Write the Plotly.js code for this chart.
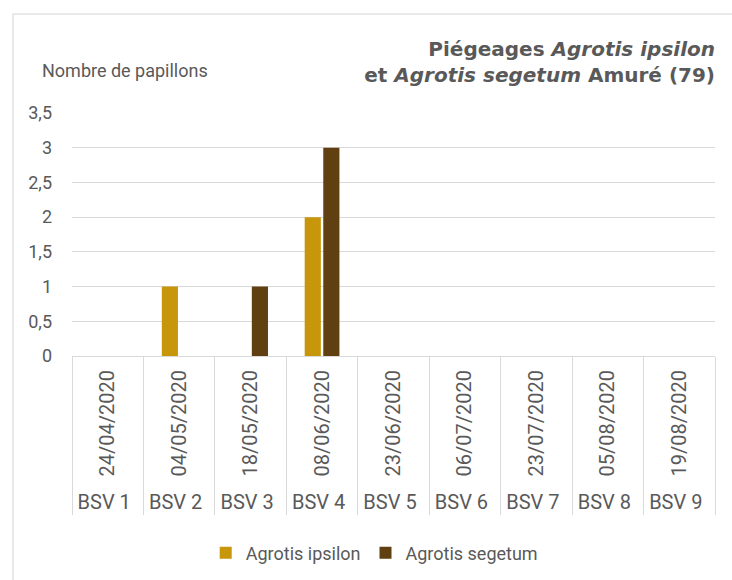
<!DOCTYPE html>
<html>
<head>
<meta charset="utf-8">
<script src="https://cdn.plot.ly/plotly-3.0.1.min.js"></script>
<style>html,body{margin:0;padding:0;background:#fff;}#chart{width:732px;height:580px;}</style>
</head>
<body>
<div id="chart"></div>
<script>
var bsv = ["BSV 1","BSV 2","BSV 3","BSV 4","BSV 5","BSV 6","BSV 7","BSV 8","BSV 9"];
var dates = ["24/04/2020","04/05/2020","18/05/2020","08/06/2020","23/06/2020","06/07/2020","23/07/2020","05/08/2020","19/08/2020"];
var ipsilon = [0,1,0,2,0,0,0,0,0];
var segetum = [0,0,1,3,0,0,0,0,0];
var yTicks = [0,0.5,1,1.5,2,2.5,3,3.5];

var gray = "#595959";
var lineGray = "#d9d9d9";
var font = "Roboto, 'Liberation Sans', sans-serif";

var traces = [
  {type:"bar", name:"Agrotis ipsilon", x:[bsv, dates], y:ipsilon, marker:{color:"#C8960A"}},
  {type:"bar", name:"Agrotis segetum", x:[bsv, dates], y:segetum, marker:{color:"#604010"}}
];

var layout = {
  width:732, height:580,
  margin:{l:72, r:17, t:113, b:224},
  paper_bgcolor:"#fff", plot_bgcolor:"#fff",
  separators:", ",
  font:{family:font, color:gray, size:18},
  barmode:"group", bargap:0.48, bargroupgap:0.13,
  showlegend:true,
  legend:{orientation:"h", x:0.47, xanchor:"center", yref:"container", y:1-553/580, yanchor:"middle",
          font:{family:font, size:18, color:gray}, itemwidth:30, traceorder:"normal"},
  title:{text:"Piégeages <i>Agrotis ipsilon</i><br>et <i>Agrotis segetum</i> Amuré (79)",
         font:{family:"'DejaVu Sans', Verdana, sans-serif", size:20, color:gray, weight:"bold"},
         xref:"paper", x:1, xanchor:"right", yref:"container", y:1-56/580, yanchor:"middle", align:"right"},
  xaxis:{type:"multicategory", automargin:false, showgrid:false, zeroline:false, showline:true, linecolor:lineGray, linewidth:1,
         ticks:"", tickangle:-90, tickfont:{family:font, size:20, color:gray},
         showdividers:true, dividercolor:lineGray, dividerwidth:1, ticklabelstandoff:5},
  yaxis:{range:[0,3.5], tickvals:yTicks, automargin:false, showgrid:true, gridcolor:lineGray, gridwidth:1,
         zeroline:false, showline:false, ticks:"", tickfont:{family:font, size:18, color:gray},
         ticklabelstandoff:19},
  annotations:[{text:"Nombre de papillons", xref:"paper", yref:"paper", x:(40-72)/643, y:1+(113-70)/243,
                xanchor:"left", yanchor:"middle", showarrow:false, font:{family:font, size:18, color:gray}}],
  shapes:[{type:"rect", xref:"paper", yref:"paper", x0:(13-72)/643, x1:1.3, y0:-2, y1:1+(113-14)/243,
           line:{color:"#e3e3e3", width:1.5}, fillcolor:"rgba(0,0,0,0)", layer:"below"}],
  hovermode:false
};

Plotly.newPlot("chart", traces, layout, {displayModeBar:false, staticPlot:true});
</script>
</body>
</html>
